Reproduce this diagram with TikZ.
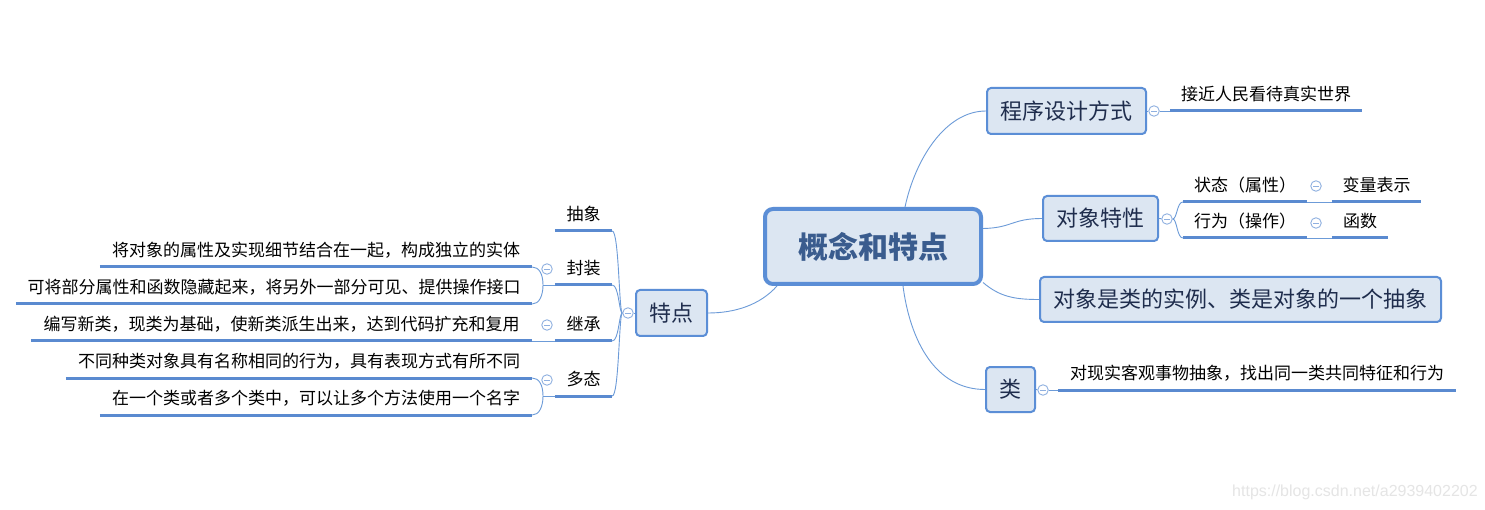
\documentclass[tikz,border=0pt]{standalone}
\usepackage{fontspec}
\usetikzlibrary{backgrounds}
\newfontfamily\cjk{Noto Sans CJK SC}
\newfontfamily\wmfont{Liberation Sans}
\definecolor{bord}{HTML}{5B8ED6}
\definecolor{fillb}{HTML}{DCE6F2}
\definecolor{connc}{HTML}{6C9BD8}
\definecolor{ulc}{HTML}{5A8AD0}
\definecolor{boxtxt}{HTML}{1F2D4D}
\definecolor{roottxt}{HTML}{3A5C8E}
\definecolor{foldc}{HTML}{8FB0E0}
\begin{document}
\begin{tikzpicture}[x=1pt,y=-1pt,
  topic/.style={draw=bord, fill=fillb, line width=2pt, rounded corners=4pt, inner sep=0pt,
    font=\cjk\fontsize{22}{26}\selectfont, text=boxtxt},
  rootbox/.style={topic, line width=4pt, rounded corners=8pt,
    font=\cjk\bfseries\fontsize{30}{34}\selectfont, text=roottxt},
  leaf/.style={inner sep=0pt, minimum height=33pt, anchor=south, font=\cjk\fontsize{17}{20}\selectfont, text=black},
  ul/.style={draw=ulc, line width=3pt},
  conn/.style={draw=connc, line width=0.9pt},
  fold/.style={circle, draw=foldc, fill=white, line width=0.9pt, minimum size=10.5pt, inner sep=0pt,
    path picture={\draw[foldc, line width=0.9pt] ([xshift=-3pt]path picture bounding box.center) -- ([xshift=3pt]path picture bounding box.center);}}
]
\useasboundingbox (0,0) rectangle (1485,510);

% main topics
\node[rootbox, minimum width=216, minimum height=75] (root) at (873,246.5) {概念和特点};
\node[topic, minimum width=159, minimum height=46] (prog) at (1066.5,111) {程序设计方式};
\node[topic, minimum width=115, minimum height=45] (attr) at (1100.5,218.5) {对象特性};
\node[topic, minimum width=401, minimum height=45] (inst) at (1240.5,299.5) {对象是类的实例、类是对象的一个抽象};
\node[topic, minimum width=49, minimum height=45] (cls) at (1010.5,389.5) {类};
\node[topic, minimum width=71, minimum height=46] (feat) at (671.5,313) {特点};

% fold markers
\node[fold] (f_prog) at (1154,111) {};
\node[fold] (f_attr) at (1167,219) {};
\node[fold] (f_state) at (1316,186) {};
\node[fold] (f_behav) at (1316,223) {};
\node[fold] (f_cls) at (1043,390) {};
\node[fold] (f_feat) at (628,313) {};
\node[fold] (f_enc) at (547,269) {};
\node[fold] (f_inh) at (547,325) {};
\node[fold] (f_poly) at (547,380) {};

% leaves right
\node[leaf, minimum width=192] (l_prog) at (1266,111) {接近人民看待真实世界};
\node[leaf, minimum width=124] (l_state) at (1245,202) {状态（属性）};
\node[leaf, minimum width=124] (l_behav) at (1245,238) {行为（操作）};
\node[leaf, minimum width=89] (l_var) at (1376.5,202) {变量表示};
\node[leaf, minimum width=56] (l_func) at (1360,238) {函数};
\node[leaf, minimum width=398] (l_cls) at (1257,390) {对现实客观事物抽象，找出同一类共同特征和行为};

% leaves left
\node[leaf, minimum width=57] (l_abs) at (583.5,231) {抽象};
\node[leaf, minimum width=57] (l_enc) at (583.5,285) {封装};
\node[leaf, minimum width=57] (l_inh) at (583.5,341) {继承};
\node[leaf, minimum width=57] (l_poly) at (583.5,396) {多态};
\node[leaf, minimum width=432] (l_e1) at (316,267) {将对象的属性及实现细节结合在一起，构成独立的实体};
\node[leaf, minimum width=516] (l_e2) at (274,304) {可将部分属性和函数隐藏起来，将另外一部分可见、提供操作接口};
\node[leaf, minimum width=501] (l_i1) at (281.5,341) {编写新类，现类为基础，使新类派生出来，达到代码扩充和复用};
\node[leaf, minimum width=466] (l_p1) at (299,378) {不同种类对象具有名称相同的行为，具有表现方式有所不同};
\node[leaf, minimum width=432] (l_p2) at (316,415) {在一个类或者多个类中，可以让多个方法使用一个名字};

\coordinate (j_enc) at (543,285);
\coordinate (j_poly) at (543,396);

% underlines
\foreach \n in {l_prog,l_state,l_behav,l_var,l_func,l_cls,l_abs,l_enc,l_inh,l_poly,l_e1,l_e2,l_i1,l_p1,l_p2}
  \draw[ul] (\n.south west) -- (\n.south east);

% watermark
\node[font=\wmfont\fontsize{16}{18}\selectfont, text=black!10, anchor=west, inner sep=0pt] (wm) at (1232,492) {https://blog.csdn.net/a2939402202};

\begin{pgfonlayer}{background}
\fill[white] (0,0) rectangle (1485,510);
% root connectors
\draw[conn] ([xshift=32pt]root.north) .. controls (915,160) and (945,111) .. (prog.west);
\draw[conn] ([yshift=18pt]root.east) .. controls (1012,228) and (1012,218.5) .. (attr.west);
\draw[conn] ([yshift=-36pt]root.east) .. controls (1000,297) and (1015,299.5) .. (inst.west);
\draw[conn] ([xshift=30pt]root.south) .. controls (910,340) and (935,389.5) .. (cls.west);
\draw[conn] ([xshift=-96pt]root.south) .. controls (760,305) and (735,313) .. (feat.east);
% right side
\draw[conn] (prog.east) -- (f_prog);
\draw[conn] (f_prog.east) -- (l_prog.south west);
\draw[conn] (attr.east) -- (f_attr);
\draw[conn] (f_attr.east) .. controls (1177,219) and (1177,202) .. (l_state.south west);
\draw[conn] (f_attr.east) .. controls (1177,219) and (1177,238) .. (l_behav.south west);
\draw[conn] (l_state.south east) -- (l_var.south west);
\draw[conn] (l_behav.south east) -- (l_func.south west);
\draw[conn] (cls.east) -- (f_cls);
\draw[conn] (f_cls.east) -- (l_cls.south west);
% left side
\draw[conn] (feat.west) -- (f_feat);
\foreach \n/\yy in {l_abs/231,l_enc/285,l_inh/341,l_poly/396}
  \draw[conn] (f_feat.west) .. controls (619,313) and (619,\yy) .. (\n.south east);
\draw[conn] (l_enc.south west) -- (j_enc);
\draw[conn] (j_enc) .. controls (543,274) and (539,267) .. (l_e1.south east);
\draw[conn] (j_enc) .. controls (543,296) and (539,304) .. (l_e2.south east);
\draw[conn] (l_inh.south west) -- (l_i1.south east);
\draw[conn] (l_poly.south west) -- (j_poly);
\draw[conn] (j_poly) .. controls (543,385) and (539,378) .. (l_p1.south east);
\draw[conn] (j_poly) .. controls (543,407) and (539,415) .. (l_p2.south east);
\end{pgfonlayer}
\end{tikzpicture}
\end{document}
